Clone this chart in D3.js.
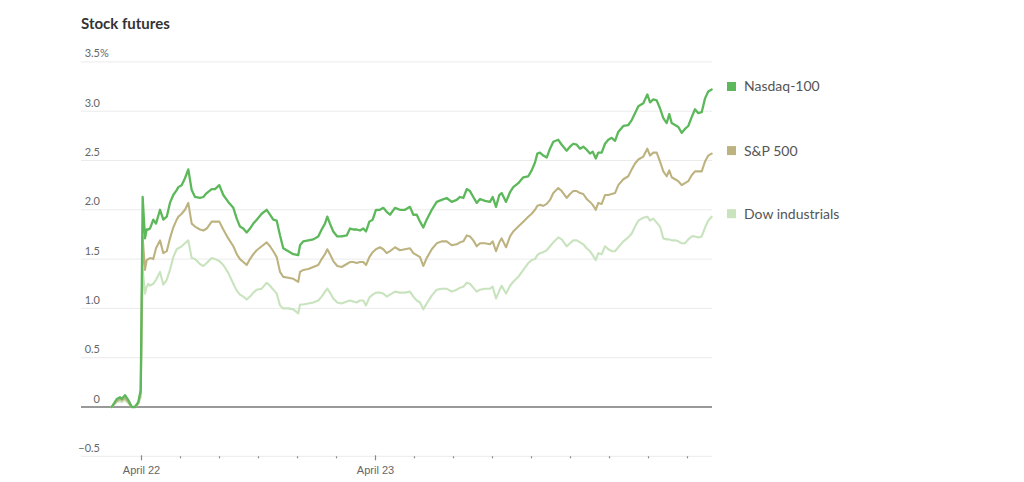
<!DOCTYPE html>
<html>
<head>
<meta charset="utf-8">
<script src="https://cdn.jsdelivr.net/npm/d3@7"></script>
<style>
  html, body { margin: 0; padding: 0; background: #fff; }
  svg { display: block; font-family: Lato, "Open Sans", sans-serif; }
</style>
</head>
<body>
<svg id="chart" width="1024" height="482"></svg>
<script>
// ---- Data (hours relative to April 22, 00:00) ----
const hours = [-3.01,-2.49,-2.15,-1.98,-1.64,-1.30,-0.95,-0.62,-0.28,-0.03,0.17,0.41,0.58,0.75,0.92,1.26,1.54,1.95,2.29,2.64,2.97,3.31,3.66,3.83,4.17,4.51,4.85,5.20,5.54,6.05,6.39,6.74,7.25,7.59,8.03,8.44,8.95,9.47,9.82,10.15,10.49,10.84,11.18,11.52,11.87,12.38,12.89,13.23,13.57,13.92,14.26,14.59,15.11,15.62,16.13,16.31,16.65,17.16,17.67,18.18,18.53,18.87,19.11,19.38,19.72,20.13,20.58,21.10,21.44,21.77,22.12,22.46,22.80,23.08,23.42,23.76,24.10,24.51,24.85,25.20,25.54,26.05,26.56,27.08,27.59,27.93,28.28,28.62,28.95,29.30,29.82,30.33,30.84,31.35,31.87,32.38,32.72,33.06,33.41,33.74,34.08,34.43,34.77,35.28,35.79,36.07,36.41,36.75,36.99,37.44,37.85,38.18,38.70,39.21,39.72,40.07,40.41,40.65,40.92,41.26,41.61,41.95,42.29,42.80,43.15,43.66,44.00,44.34,44.69,45.03,45.36,45.71,46.05,46.33,46.64,46.90,47.25,47.59,47.93,48.28,48.62,48.95,49.47,49.98,50.33,50.67,51.01,51.52,51.93,52.21,52.54,52.89,53.23,53.57,53.92,54.18,54.43,54.77,55.11,55.46,55.79,56.13,56.48,56.82,57.16,57.51,57.85,58.18,58.53];

const nasdaq = [0.00,0.08,0.10,0.08,0.12,0.07,0.00,0.00,0.05,0.17,2.13,1.71,1.80,1.80,1.81,1.90,1.86,2.00,1.90,1.93,2.07,2.15,2.20,2.23,2.25,2.32,2.41,2.20,2.13,2.12,2.13,2.17,2.21,2.21,2.25,2.15,2.08,2.02,1.91,1.83,1.81,1.77,1.81,1.86,1.90,1.96,2.00,1.95,1.90,1.89,1.74,1.61,1.58,1.55,1.54,1.64,1.68,1.69,1.70,1.73,1.80,1.86,1.93,1.86,1.78,1.73,1.73,1.74,1.81,1.80,1.80,1.79,1.81,1.78,1.88,1.90,2.00,2.00,2.02,1.98,1.95,2.02,2.00,2.00,2.03,1.95,1.95,1.88,1.82,1.90,2.00,2.08,2.10,2.12,2.08,2.10,2.13,2.12,2.21,2.19,2.13,2.07,2.11,2.09,2.08,2.13,2.03,2.15,2.17,2.08,2.18,2.23,2.27,2.33,2.34,2.40,2.48,2.57,2.58,2.55,2.53,2.62,2.69,2.71,2.66,2.60,2.64,2.67,2.66,2.62,2.64,2.61,2.57,2.59,2.52,2.58,2.58,2.67,2.71,2.73,2.70,2.79,2.85,2.86,2.91,2.98,3.05,3.08,3.17,3.09,3.12,3.11,3.03,2.93,2.88,2.97,2.88,2.86,2.84,2.78,2.82,2.85,2.94,3.02,2.98,2.99,3.13,3.20,3.22];

const sp500 = [0.00,0.06,0.08,0.07,0.09,0.05,0.00,0.00,0.04,0.14,1.72,1.39,1.49,1.50,1.51,1.50,1.61,1.69,1.56,1.58,1.71,1.82,1.90,1.93,1.96,2.00,2.07,1.86,1.83,1.80,1.79,1.81,1.88,1.88,1.88,1.80,1.71,1.63,1.55,1.50,1.47,1.44,1.50,1.55,1.59,1.63,1.67,1.63,1.58,1.52,1.37,1.32,1.31,1.30,1.27,1.37,1.39,1.40,1.42,1.44,1.50,1.55,1.60,1.55,1.48,1.43,1.42,1.45,1.47,1.47,1.46,1.47,1.47,1.44,1.52,1.57,1.60,1.62,1.60,1.56,1.58,1.62,1.59,1.60,1.61,1.56,1.54,1.52,1.43,1.51,1.60,1.66,1.68,1.68,1.64,1.65,1.67,1.68,1.74,1.73,1.69,1.63,1.66,1.66,1.65,1.68,1.58,1.67,1.71,1.62,1.73,1.78,1.83,1.88,1.93,1.96,2.00,2.04,2.05,2.04,2.06,2.10,2.17,2.22,2.19,2.12,2.16,2.19,2.19,2.17,2.16,2.11,2.08,2.05,2.00,2.07,2.06,2.15,2.15,2.16,2.17,2.25,2.31,2.34,2.41,2.47,2.51,2.54,2.62,2.55,2.58,2.58,2.49,2.39,2.34,2.40,2.33,2.31,2.29,2.25,2.27,2.29,2.35,2.39,2.39,2.39,2.49,2.55,2.57];

const dow = [0.00,0.05,0.06,0.05,0.07,0.04,0.00,0.00,0.03,0.10,1.40,1.15,1.22,1.25,1.23,1.25,1.29,1.37,1.24,1.29,1.39,1.52,1.60,1.61,1.63,1.66,1.69,1.51,1.50,1.45,1.43,1.46,1.51,1.50,1.48,1.44,1.36,1.25,1.18,1.14,1.12,1.09,1.12,1.16,1.19,1.20,1.26,1.23,1.19,1.15,1.03,1.00,1.00,0.99,0.95,1.04,1.04,1.05,1.06,1.08,1.12,1.17,1.20,1.16,1.10,1.06,1.05,1.07,1.08,1.07,1.06,1.08,1.08,1.03,1.11,1.14,1.16,1.16,1.15,1.12,1.14,1.17,1.16,1.16,1.17,1.12,1.08,1.06,0.99,1.05,1.13,1.19,1.20,1.20,1.17,1.19,1.21,1.22,1.26,1.25,1.21,1.17,1.19,1.20,1.20,1.22,1.10,1.18,1.23,1.15,1.23,1.27,1.32,1.39,1.46,1.49,1.50,1.54,1.56,1.57,1.59,1.63,1.67,1.72,1.70,1.63,1.66,1.69,1.69,1.67,1.65,1.61,1.58,1.54,1.49,1.56,1.55,1.63,1.60,1.58,1.58,1.62,1.68,1.72,1.76,1.83,1.89,1.92,1.93,1.89,1.91,1.87,1.83,1.71,1.70,1.70,1.69,1.69,1.68,1.66,1.66,1.70,1.73,1.73,1.72,1.73,1.82,1.89,1.93];

const seriesNames = ["Dow industrials", "S&P 500", "Nasdaq-100"];
const seriesColors = ["#c8e3be", "#bdb381", "#5cb85a"];
const yTickValues = [-0.5, 0, 0.5, 1.0, 1.5, 2.0, 2.5, 3.0, 3.5];
const xTickHours = [0, 4, 8, 12, 16, 20, 24, 28, 32, 36, 40, 44, 48, 52, 56];
const xTickLabels = ["April 22", "April 23"]; // labels for day ticks (hour 0, hour 24)
const title = "Stock futures";

// ---- Scales ----
const base = new Date(2025, 3, 22, 0, 0, 0);
const toDate = h => new Date(base.getTime() + h * 3600e3);

const x = d3.scaleTime()
  .domain([toDate(0), toDate(24)])
  .range([141, 375]);
const y = d3.scaleLinear()
  .domain([0, 3.5])
  .range([407, 61.9]);

const gridLeft = 81, gridRight = 712;

const svg = d3.select("#chart");

// Title
svg.append("text")
  .attr("x", 81).attr("y", 29)
  .attr("font-size", 15).attr("font-weight", 700)
  .attr("fill", "#333")
  .text(title);

// Gridlines
svg.append("g").selectAll("line")
  .data(yTickValues.filter(v => v !== 0))
  .join("line")
  .attr("x1", gridLeft).attr("x2", gridRight)
  .attr("y1", d => y(d)).attr("y2", d => y(d))
  .attr("stroke", "#ebebeb").attr("stroke-width", 1);

// Y labels
const fmt = v => v === 0 ? "0" : d3.format(".1f")(v);
const yl = svg.append("g").attr("font-size", 11).attr("fill", "#666");
yl.selectAll("text")
  .data(yTickValues)
  .join("text")
  .attr("x", 100)
  .attr("y", d => y(d) - 4.5)
  .attr("text-anchor", "end")
  .text(fmt);
yl.append("text")
  .attr("x", 100).attr("y", y(3.5) - 4.5)
  .text("%");

// X axis ticks (on the -0.5 gridline)
const isDay = d => d.getHours() === 0 && xTickLabels[Math.round((d - base) / 864e5)];
const xAxis = d3.axisBottom(x)
  .tickValues(xTickHours.map(toDate))
  .tickSize(0)
  .tickFormat("");
const xg = svg.append("g")
  .attr("transform", `translate(0,${y(-0.5)})`)
  .call(xAxis);
xg.select(".domain").remove();
xg.selectAll(".tick").append("line")
  .attr("y1", d => isDay(d) ? -1 : 0)
  .attr("y2", d => isDay(d) ? 4 : 2)
  .attr("stroke", "#888").attr("stroke-width", 1.2);
xg.selectAll(".tick").append("text")
  .attr("y", 18)
  .attr("fill", "#666")
  .attr("font-size", 11)
  .attr("text-anchor", "middle")
  .text(d => isDay(d) ? xTickLabels[Math.round((d - base) / 864e5)] : "");

// Zero line
svg.append("line")
  .attr("x1", gridLeft).attr("x2", gridRight)
  .attr("y1", y(0)).attr("y2", y(0))
  .attr("stroke", "#777").attr("stroke-width", 1.3);

// Lines
const allSeries = [dow, sp500, nasdaq];
const line = d3.line()
  .x((d, i) => x(toDate(hours[i])))
  .y(d => y(d))
  .curve(d3.curveLinear);

svg.append("g").selectAll("path")
  .data(allSeries)
  .join("path")
  .attr("d", d => line(d))
  .attr("fill", "none")
  .attr("stroke", (d, i) => seriesColors[i])
  .attr("stroke-width", (d, i) => i === 2 ? 2.3 : 2.1)
  .attr("stroke-linejoin", "round")
  .attr("stroke-linecap", "round");

// Legend at line ends
const lg = svg.append("g").selectAll("g")
  .data(allSeries)
  .join("g")
  .attr("transform", d => `translate(727,${y(d[d.length - 1]) - 3})`);
lg.append("rect")
  .attr("x", 0).attr("y", -4.5)
  .attr("width", 9).attr("height", 9)
  .attr("fill", (d, i) => seriesColors[i]);
lg.append("text")
  .attr("x", 17).attr("y", 0)
  .attr("dy", "0.35em")
  .attr("font-size", 14)
  .attr("fill", "#555")
  .text((d, i) => seriesNames[i]);
</script>
</body>
</html>
